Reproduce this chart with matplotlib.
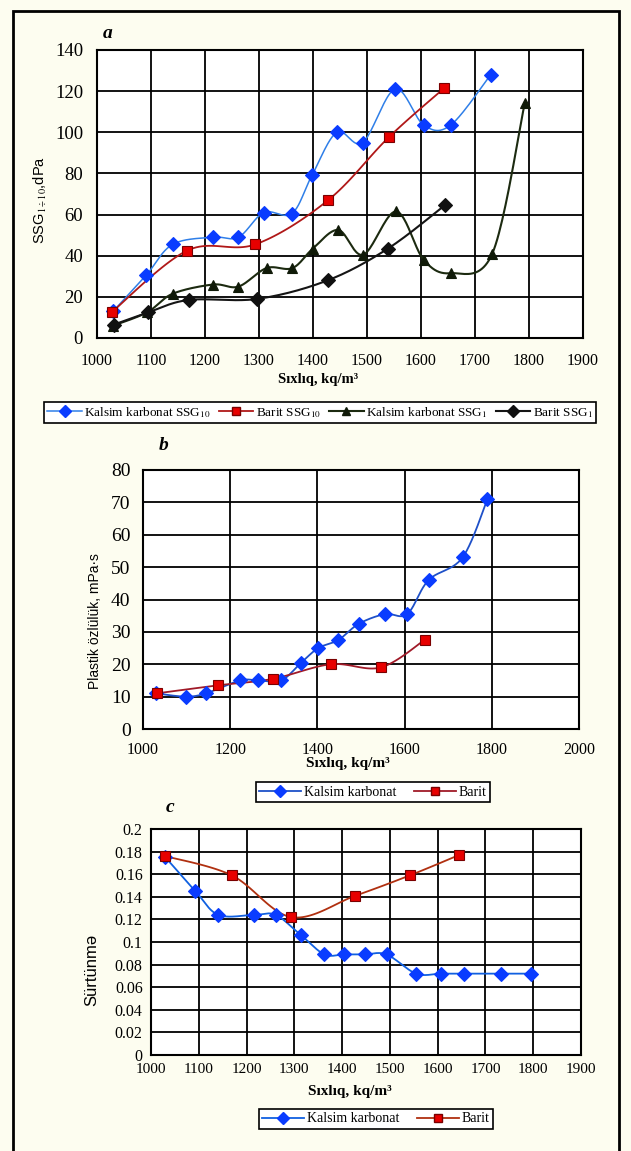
import numpy as np
import matplotlib
matplotlib.use("Agg")
import matplotlib.pyplot as plt
from matplotlib.patches import Rectangle
from matplotlib.lines import Line2D

plt.rcParams['font.family'] = ['Liberation Serif', 'DejaVu Serif']
plt.rcParams['mathtext.fontset'] = 'stix'

W, H = 631, 1151

# ---------- Data ----------
# panel a: static shear stress
ca10_x = [1030, 1091, 1140, 1215, 1262, 1309, 1361, 1398, 1444, 1492, 1552, 1605, 1655, 1729]
ca10_y = [13, 30.5, 45.5, 49, 49, 61, 60.5, 79, 100, 95, 121, 103.5, 103.5, 128]
ba10_x = [1027, 1167, 1293, 1428, 1540, 1643]
ba10_y = [12.5, 42.5, 45.5, 67, 97.5, 121.5]
ca1_x = [1030, 1093, 1140, 1215, 1262, 1314, 1362, 1400, 1447, 1493, 1554, 1605, 1655, 1732, 1792]
ca1_y = [6, 12.5, 21.5, 26, 25, 34, 34, 43.5, 52.5, 40.5, 61.5, 38, 31.5, 41, 114]
ba1_x = [1031, 1095, 1170, 1297, 1427, 1539, 1644]
ba1_y = [6.5, 12.5, 18.5, 19, 28, 43.5, 64.5]

# panel b: plastic viscosity
ca_b_x = [1030, 1098, 1144, 1223, 1264, 1317, 1363, 1402, 1448, 1495, 1555, 1606, 1655, 1733, 1790]
ca_b_y = [11, 10, 11, 15, 15, 15, 20.5, 25, 27.5, 32.5, 35.5, 35.5, 46, 53, 71]
ba_b_x = [1031, 1173, 1298, 1431, 1545, 1646]
ba_b_y = [11, 13.5, 15.5, 20, 19, 27.5]

# panel c: friction
ca_c_x = [1030, 1093, 1141, 1216, 1261, 1314, 1363, 1404, 1447, 1493, 1555, 1607, 1655, 1733, 1795]
ca_c_y = [0.175, 0.145, 0.124, 0.124, 0.124, 0.106, 0.089, 0.089, 0.089, 0.089, 0.072, 0.072, 0.072, 0.072, 0.072]
ba_c_x = [1030, 1169, 1294, 1428, 1542, 1645]
ba_c_y = [0.176, 0.159, 0.122, 0.141, 0.159, 0.177]

xlab = "Sıxlıq, kq/m³"


def smooth(x, y, n=24):
    # excel-like smoothed line (bezier through the points)
    p = np.column_stack([x, y]).astype(float)
    k = len(p)
    out = [p[:1]]
    for i in range(k - 1):
        p0 = p[i - 1] if i > 0 else p[i]
        p3 = p[i + 2] if i + 2 < k else p[i + 1]
        c1 = p[i] + (p[i + 1] - p0) / 6
        c2 = p[i + 1] - (p3 - p[i]) / 6
        t = np.linspace(0, 1, n)[1:, None]
        seg = ((1 - t) ** 3) * p[i] + 3 * ((1 - t) ** 2) * t * c1 + 3 * (1 - t) * t ** 2 * c2 + t ** 3 * p[i + 1]
        out.append(seg)
    s = np.vstack(out)
    return s[:, 0], s[:, 1]


def series(ax, x, y, lc, mk, mc, ms, lw=1.3, mec=None):
    sx, sy = smooth(x, y)
    ax.plot(sx, sy, color=lc, lw=lw, zorder=3)
    ax.plot(x, y, ls='none', marker=mk, ms=ms, mfc=mc, mec=mec or mc, mew=0.8, zorder=4)


def frac(px, py):
    return px / W, 1 - py / H


def axes_px(fig, l, t, r, b):
    return fig.add_axes([l / W, 1 - b / H, (r - l) / W, (b - t) / H])


def style(ax, xt, yt, xs, ys, pad_x, pad_y):
    ax.set_facecolor('white')
    ax.set_xticks(xt)
    ax.set_yticks(yt)
    ax.set_xlim(xt[0], xt[-1])
    ax.set_ylim(yt[0], yt[-1])
    ax.grid(True, color='black', lw=1.3, zorder=1)
    ax.tick_params(length=0, pad=0)
    ax.tick_params(axis='x', labelsize=xs, pad=pad_x)
    ax.tick_params(axis='y', labelsize=ys, pad=pad_y)
    for s in ax.spines.values():
        s.set_linewidth(1.5)
        s.set_zorder(5)


fig = plt.figure(figsize=(W / 100, H / 100), dpi=100)
fig.patch.set_facecolor('#fdfdf0')
fig.patches.append(Rectangle(frac(13, 1165), (619 - 13) / W, (1165 - 11) / H,
                             transform=fig.transFigure, fill=False, lw=2, ec='black'))

sans = ['Liberation Sans', 'DejaVu Sans']

# ---------- Panel a ----------
ax1 = axes_px(fig, 97, 50, 583, 338)
style(ax1, np.arange(1000, 2000, 100), np.arange(0, 141, 20), 11.5, 13.5, 11, 10)
series(ax1, ca10_x, ca10_y, '#2f7fe8', 'D', '#0a3cff', 7, lw=1.1)
series(ax1, ba10_x, ba10_y, '#b01818', 's', '#e80000', 6.5, mec='#7a0000')
series(ax1, ca1_x, ca1_y, '#1c2a10', '^', '#101a08', 7.5, lw=1.5)
series(ax1, ba1_x, ba1_y, '#151515', 'D', '#101010', 7, lw=1.5)
fig.text(*frac(108, 34), 'a', fontsize=14, fontweight='bold', style='italic', ha='center', va='center')
fig.text(*frac(318, 380), xlab, fontsize=10.5, fontweight='bold', ha='center', va='center')
fig.text(*frac(40, 200), r'SSG$_{1\div10}$,dPa', fontsize=10.5, family=sans, rotation=90, ha='center', va='center')

h_a = [
    Line2D([], [], color='#2f7fe8', lw=1.1, marker='D', mfc='#0a3cff', mec='#0a3cff', ms=6),
    Line2D([], [], color='#b01818', lw=1.3, marker='s', mfc='#e80000', mec='#7a0000', ms=6),
    Line2D([], [], color='#1c2a10', lw=1.5, marker='^', mfc='#101a08', mec='#101a08', ms=6),
    Line2D([], [], color='#151515', lw=1.5, marker='D', mfc='#101010', mec='#101010', ms=6),
]
l_a = ['Kalsim karbonat SSG$_{10}$', 'Barit SSG$_{10}$', 'Kalsim karbonat SSG$_{1}$', 'Barit SSG$_{1}$']
leg = fig.legend(h_a, l_a, loc='center', bbox_to_anchor=frac(320, 412.5), ncol=4, fontsize=9.5,
                 handlelength=2.6, handletextpad=0.2, columnspacing=0.6, borderpad=0.25,
                 fancybox=False, framealpha=1, edgecolor='black')
leg.get_frame().set_linewidth(1.2)

# ---------- Panel b ----------
ax2 = axes_px(fig, 143, 470, 579, 729)
style(ax2, np.arange(1000, 2001, 200), np.arange(0, 81, 10), 11.5, 14, 9, 9)
series(ax2, ca_b_x, ca_b_y, '#1e50c8', 'D', '#0a3cff', 7.5, lw=1.3)
series(ax2, ba_b_x, ba_b_y, '#a01a28', 's', '#e80000', 7, mec='#7a0000')
fig.text(*frac(164, 446), 'b', fontsize=14, fontweight='bold', style='italic', ha='center', va='center')
fig.text(*frac(348, 763), xlab, fontsize=11, fontweight='bold', ha='center', va='center')
fig.text(*frac(95, 621), 'Plastik özlülük, mPa·s', fontsize=10, family=sans, rotation=90, ha='center', va='center')

h_b = [
    Line2D([], [], color='#1e50c8', lw=1.3, marker='D', mfc='#0a3cff', mec='#0a3cff', ms=6),
    Line2D([], [], color='#a01a28', lw=1.3, marker='s', mfc='#e80000', mec='#7a0000', ms=6),
]
leg = fig.legend(h_b, ['Kalsim karbonat', 'Barit'], loc='center', bbox_to_anchor=frac(373, 792), ncol=2,
                 fontsize=10, handlelength=3, handletextpad=0.2, columnspacing=1.3, borderpad=0.25,
                 fancybox=False, framealpha=1, edgecolor='black')
leg.get_frame().set_linewidth(1.2)

# ---------- Panel c ----------
ax3 = axes_px(fig, 151, 829, 581, 1055)
style(ax3, np.arange(1000, 2000, 100), np.round(np.arange(0, 0.201, 0.02), 2), 11, 11.5, 6, 6)
ax3.set_yticklabels(['0', '0.02', '0.04', '0.06', '0.08', '0.1', '0.12', '0.14', '0.16', '0.18', '0.2'])
series(ax3, ca_c_x, ca_c_y, '#1060e0', 'D', '#0a3cff', 7.5, lw=1.3)
series(ax3, ba_c_x, ba_c_y, '#b03010', 's', '#e80000', 7, mec='#7a0000')
fig.text(*frac(170, 807), 'c', fontsize=14, fontweight='bold', style='italic', ha='center', va='center')
fig.text(*frac(350, 1092), xlab, fontsize=11, fontweight='bold', ha='center', va='center')
fig.text(*frac(92, 970), 'Sürtünmə', fontsize=12, family=sans, rotation=90, ha='center', va='center')

h_c = [
    Line2D([], [], color='#1060e0', lw=1.3, marker='D', mfc='#0a3cff', mec='#0a3cff', ms=6),
    Line2D([], [], color='#b03010', lw=1.3, marker='s', mfc='#e80000', mec='#7a0000', ms=6),
]
leg = fig.legend(h_c, ['Kalsim karbonat', 'Barit'], loc='center', bbox_to_anchor=frac(376, 1119), ncol=2,
                 fontsize=10, handlelength=3, handletextpad=0.2, columnspacing=1.3, borderpad=0.25,
                 fancybox=False, framealpha=1, edgecolor='black')
leg.get_frame().set_linewidth(1.2)

fig.savefig('out.png', dpi=100, facecolor=fig.get_facecolor())
